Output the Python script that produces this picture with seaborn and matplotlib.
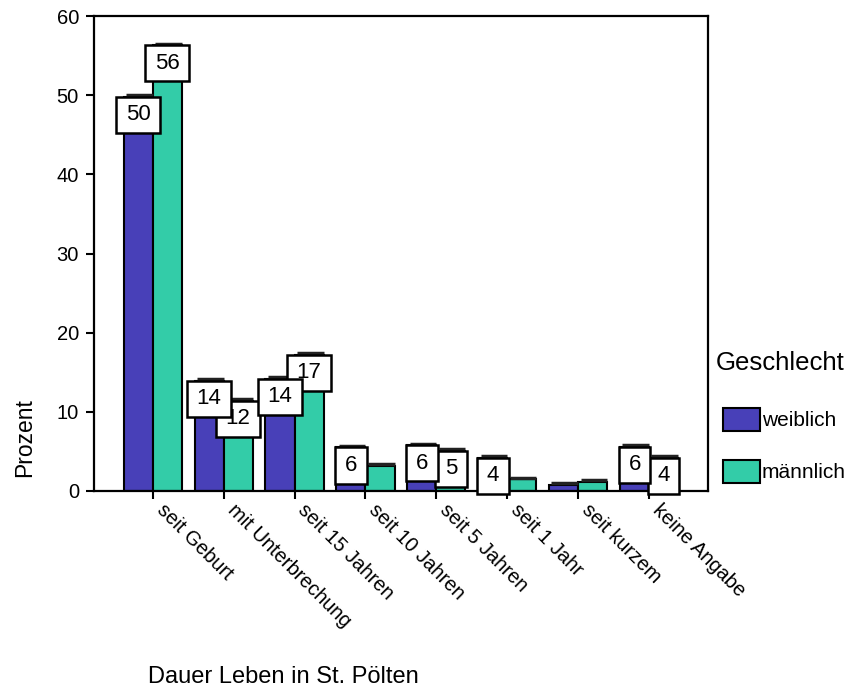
import pandas as pd
import seaborn as sns
import matplotlib.pyplot as plt
from matplotlib.patches import Patch
from matplotlib.path import Path

# data
kategorien = ['seit Geburt', 'mit Unterbrechung', 'seit 15 Jahren', 'seit 10 Jahren',
              'seit 5 Jahren', 'seit 1 Jahr', 'seit kurzem', 'keine Angabe']
weiblich = [49.8, 13.9, 14.2, 5.5, 5.8, 4.2, 0.8, 5.6]
maennlich = [56.3, 11.4, 17.2, 3.2, 5.1, 1.5, 1.2, 4.2]
label_w = ['50', '14', '14', '6', '6', '4', '', '6']
label_m = ['56', '12', '17', '', '5', '', '', '4']
gruppen = ['weiblich', 'männlich']
farben = ['#4840B8', '#33CCA8']

df = pd.DataFrame({
    'Dauer': kategorien * 2,
    'Prozent': weiblich + maennlich,
    'Geschlecht': ['weiblich'] * len(kategorien) + ['männlich'] * len(kategorien),
})

sns.set_style('white')
plt.rcParams['font.family'] = ['Liberation Sans', 'DejaVu Sans']
plt.rcParams['text.color'] = 'black'
plt.rcParams['xtick.color'] = 'black'
plt.rcParams['ytick.color'] = 'black'


def wertbox(x0, y0, width, height, mutation_size):
    # SPSS-like value box: wider than tall
    px, py = 0.43 * mutation_size, 0.34 * mutation_size
    x0, y0 = x0 - px, y0 - py
    x1, y1 = x0 + width + 2 * px, y0 + height + 2 * py
    return Path([(x0, y0), (x1, y0), (x1, y1), (x0, y1), (x0, y0)], closed=True)


fig = plt.figure(figsize=(8.52, 6.90), dpi=100, facecolor='white')
ax = fig.add_axes([93.5 / 852, 1 - 491 / 690, 614.5 / 852, 475 / 690])

sns.barplot(data=df, x='Dauer', y='Prozent', hue='Geschlecht', hue_order=gruppen,
            palette=farben, width=0.82, edgecolor='black', linewidth=1.5,
            saturation=1, legend=False, ax=ax)

ax.set_ylim(0, 60)
ax.set_xlim(-0.835, 7.83)
ax.set_yticks([0, 10, 20, 30, 40, 50, 60])

# pseudo-3D cap and value boxes
for cont, labs, z in zip(ax.containers, [label_w, label_m], [6, 5]):
    for bar, lab in zip(cont, labs):
        x0, w, h = bar.get_x(), bar.get_width(), bar.get_height()
        ax.plot([x0 + 0.08 * w, x0 + w], [h + 0.2, h + 0.2], color='#222222',
                lw=2.5, solid_capstyle='butt', zorder=3)
        if lab:
            ax.annotate(lab, (x0 + w / 2, h), xytext=(0, -5.4), textcoords='offset points',
                        ha='center', va='top', fontsize=16, zorder=z, annotation_clip=False,
                        bbox=dict(boxstyle=wertbox, fc='white', ec='black', lw=1.8))

for s in ax.spines.values():
    s.set_visible(True)
    s.set_color('black')
    s.set_linewidth(1.6)

ax.tick_params(axis='both', direction='out', length=5.5, width=1.5, color='black',
               bottom=True, left=True)
ax.tick_params(axis='y', pad=5, labelsize=14.5)
ax.tick_params(axis='x', pad=11, labelsize=14.5)
plt.setp(ax.get_xticklabels(), rotation=-45, ha='left', va='bottom', rotation_mode='anchor')
ax.set_xlabel('')
ax.set_ylabel('')

fig.text(25 / 852, 1 - 437.5 / 690, 'Prozent', rotation=90, ha='center', va='center', fontsize=16.5)
fig.text(148 / 852, 1 - 688 / 690, 'Dauer Leben in St. Pölten', ha='left', va='bottom', fontsize=17)

fig.text(716 / 852, 1 - 370 / 690, 'Geschlecht', ha='left', va='baseline', fontsize=18.5)
handles = [Patch(facecolor=c, edgecolor='black', linewidth=1.5) for c in farben]
leg = fig.legend(handles, gruppen, loc='upper left', bbox_to_anchor=(722.5 / 852, 1 - 408 / 690),
                 frameon=False, fontsize=15, handlelength=1.8, handleheight=1.3,
                 handletextpad=0.08, labelspacing=1.4, borderpad=0, borderaxespad=0)

plt.savefig('out.png', dpi=100)
